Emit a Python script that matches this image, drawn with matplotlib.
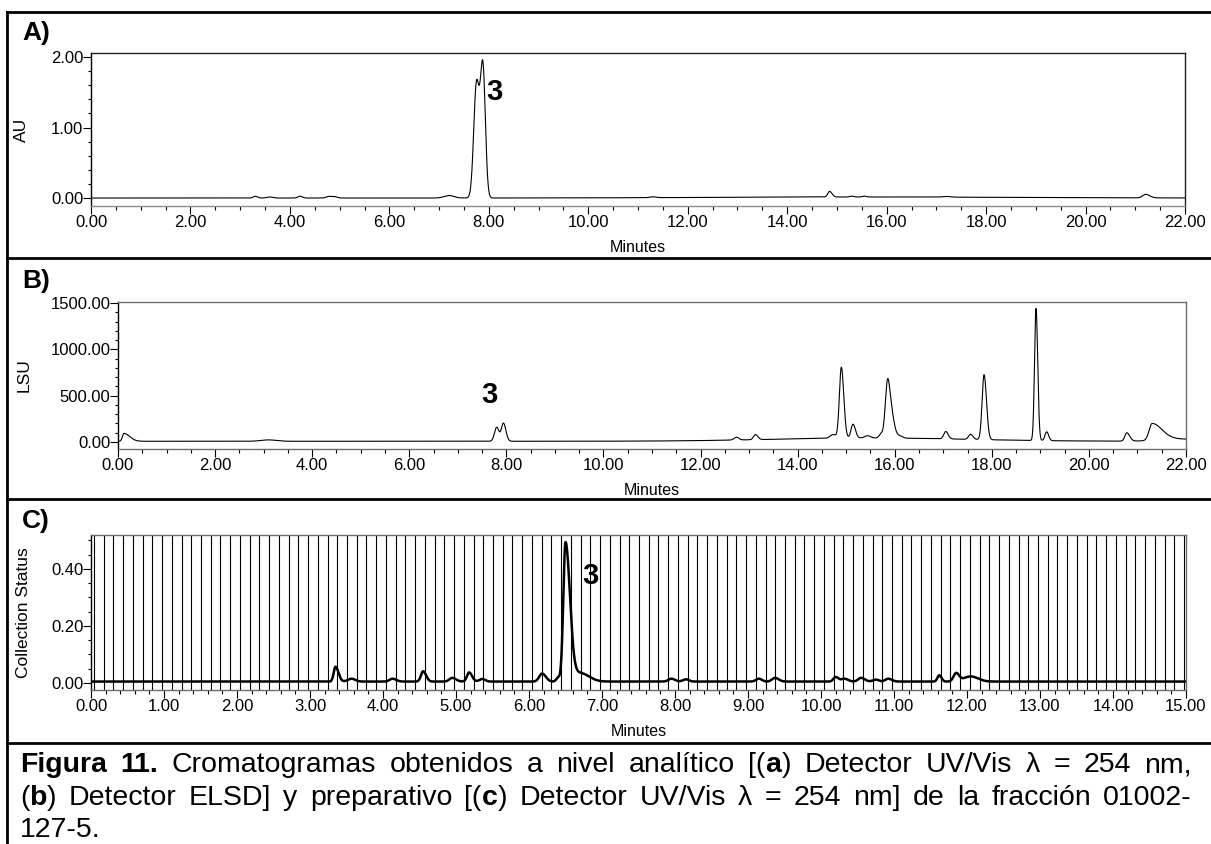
import numpy as np
import matplotlib.pyplot as plt
from matplotlib.lines import Line2D
from matplotlib.ticker import MultipleLocator, FormatStrFormatter

plt.rcParams['font.family'] = ['Liberation Sans', 'DejaVu Sans']

W, H = 1211, 844

# A) analytical run, UV/Vis 254 nm (AU)
a_rt = [3.30, 3.60, 4.20, 4.78, 4.90, 7.20, 7.75, 7.88, 11.30, 14.85,
        15.30, 15.55, 17.20, 21.21, 15.50]
a_height = [0.025, 0.015, 0.025, 0.022, 0.018, 0.035, 1.58, 1.86, 0.012, 0.08,
            0.012, 0.012, 0.010, 0.050, 0.015]
a_width = [0.04, 0.06, 0.04, 0.05, 0.05, 0.10, 0.054, 0.052, 0.06, 0.035,
           0.04, 0.04, 0.08, 0.06, 3.0]
a_tail = [0.05, 0.06, 0.05, 0.06, 0.05, 0.10, 0.054, 0.05, 0.06, 0.05,
          0.04, 0.04, 0.08, 0.08, 3.0]
a_base = 0.0

# B) analytical run, ELSD (LSU)
b_rt = [0.12, 3.10, 7.80, 7.94, 12.74, 13.13, 14.73, 14.90, 15.14, 15.44,
        15.72, 15.85, 15.93, 16.10, 17.05, 17.56, 17.84, 18.91, 19.13, 20.78,
        21.30, 21.75, 15.50]
b_height = [85, 15, 150, 195, 30, 55, 40, 765, 150, 25,
            45, 600, 260, 25, 80, 55, 700, 1425, 95, 90,
            180, 25, 35]
b_width = [0.03, 0.15, 0.045, 0.045, 0.05, 0.04, 0.06, 0.04, 0.04, 0.06,
           0.04, 0.045, 0.04, 0.06, 0.04, 0.04, 0.04, 0.03, 0.035, 0.04,
           0.06, 0.35, 2.0]
b_tail = [0.12, 0.15, 0.045, 0.05, 0.05, 0.05, 0.06, 0.05, 0.05, 0.06,
          0.04, 0.045, 0.06, 0.06, 0.05, 0.05, 0.05, 0.035, 0.04, 0.06,
          0.20, 0.60, 2.0]
b_base = 8.0

# C) preparative run, UV/Vis 254 nm with fraction collector marks
c_rt = [3.35, 3.57, 4.13, 4.55, 4.95, 5.18, 5.36, 6.18, 6.40, 6.50, 6.70,
        7.95, 8.15, 9.15, 9.37, 10.20, 10.32, 10.55, 10.75, 10.92, 11.62,
        11.85, 12.05]
c_height = [0.052, 0.010, 0.010, 0.036, 0.013, 0.032, 0.009, 0.028, 0.014,
            0.485, 0.030, 0.010, 0.008, 0.010, 0.013, 0.016, 0.010, 0.013,
            0.007, 0.010, 0.022, 0.028, 0.018]
c_width = [0.025, 0.05, 0.04, 0.03, 0.04, 0.03, 0.04, 0.04, 0.025, 0.03, 0.10,
           0.04, 0.04, 0.04, 0.04, 0.03, 0.04, 0.04, 0.04, 0.04, 0.025,
           0.035, 0.10]
c_tail = [0.04, 0.05, 0.05, 0.04, 0.05, 0.04, 0.04, 0.05, 0.025, 0.06, 0.12,
          0.05, 0.04, 0.04, 0.05, 0.04, 0.05, 0.05, 0.04, 0.05, 0.03,
          0.04, 0.10]
c_base = 0.005
frac_start = 0.04       # first fraction change (min)
frac_step = 0.13333     # 8 s per tube

caption = [
    [("Figura 11.", True), (" Cromatogramas obtenidos a nivel analítico [(", False),
     ("a", True), (") Detector UV/Vis λ = 254 nm,", False)],
    [("(", False), ("b", True), (") Detector ELSD] y preparativo [(", False),
     ("c", True), (") Detector UV/Vis λ = 254 nm] de la fracción 01002-", False)],
    [("127-5.", False)],
]


def trace(t, base, rt, height, width, tail):
    y = np.full_like(t, base)
    for r, h, sl, sr in zip(rt, height, width, tail):
        s = np.where(t < r, sl, sr)
        y += h * np.exp(-0.5 * ((t - r) / s) ** 2)
    return y


def px_axes(fig, left, top, right, bottom):
    return fig.add_axes([left / W, 1 - bottom / H, (right - left) / W, (bottom - top) / H])


def style_axes(ax, xmax, xmaj, xmin, ymaj, ymin, ylabel, label_px, height_px, edge):
    ax.set_xlim(0, xmax)
    ax.xaxis.set_major_locator(MultipleLocator(xmaj))
    ax.xaxis.set_minor_locator(MultipleLocator(xmin))
    ax.yaxis.set_major_locator(MultipleLocator(ymaj))
    ax.yaxis.set_minor_locator(MultipleLocator(ymin))
    ax.xaxis.set_major_formatter(FormatStrFormatter('%.2f'))
    ax.yaxis.set_major_formatter(FormatStrFormatter('%.2f'))
    ax.tick_params(axis='x', which='major', direction='out', length=5.5, width=0.8,
                   labelsize=12, pad=1)
    ax.tick_params(axis='x', which='minor', direction='out', length=2.8, width=0.8)
    ax.tick_params(axis='y', which='major', direction='out', length=5.5, width=0.8,
                   labelsize=12, pad=0)
    ax.tick_params(axis='y', which='minor', direction='out', length=2.5, width=0.8)
    ax.set_xlabel('Minutes', fontsize=11.5)
    ax.xaxis.set_label_coords(0.5, -34 / height_px)
    ax.set_ylabel(ylabel, fontsize=12.5)
    ax.yaxis.set_label_coords(label_px, 0.5)
    ax.spines['left'].set_color('black')
    for side in ('top', 'right', 'bottom'):
        ax.spines[side].set_color(edge)
    for sp in ax.spines.values():
        sp.set_linewidth(1.0)


def split_words(runs):
    words = [[]]
    for s, bold in runs:
        for i, part in enumerate(s.split(' ')):
            if i > 0:
                words.append([])
            if part:
                words[-1].append((part, bold))
    return [w for w in words if w]


def draw_line(fig, renderer, runs, x0, x1, y, size, justify):
    words = split_words(runs)
    placed = []
    total = 0.0
    for word in words:
        parts = []
        for s, bold in word:
            t = fig.text(0, 1 - y / H, s, fontsize=size,
                         fontweight='bold' if bold else 'normal', va='baseline')
            w = t.get_window_extent(renderer).width
            parts.append((t, w))
            total += w
        placed.append(parts)
    if justify and len(words) > 1:
        gap = (x1 - x0 - total) / (len(words) - 1)
    else:
        gap = 0.278 * size * fig.dpi / 72
    x = x0
    for parts in placed:
        for t, w in parts:
            t.set_x(x / W)
            x += w
        x += gap


t22 = np.linspace(0, 22, 8801)
t15 = np.linspace(0, 15, 6001)

fig = plt.figure(figsize=(W / 100, H / 100), dpi=100)

# panel frames
frame = dict(color='black', lw=2.0, transform=fig.transFigure)
fig.add_artist(Line2D([7 / W, 7 / W], [1 - 12 / H, 0], **frame))
for yy in (12, 258, 499, 743):
    fig.add_artist(Line2D([7 / W, 1], [1 - yy / H, 1 - yy / H], **frame))

for lab, yy in (('A)', 33), ('B)', 281), ('C)', 521)):
    fig.text(22 / W, 1 - yy / H, lab, fontsize=19, fontweight='bold', va='center')

# A
ax = px_axes(fig, 91, 53, 1185, 206)
ax.plot(t22, trace(t22, a_base, a_rt, a_height, a_width, a_tail), color='black', lw=0.8)
ax.set_ylim(-0.113, 2.057)
style_axes(ax, 22, 2, 0.5, 1, 0.2, 'AU', (29 - 91) / 1094, 153, '#222222')
ax.spines['bottom'].set_color('#8c8c8c')
ax.text(8.12, 1.50, '3', fontsize=21, fontweight='bold', ha='center', va='center')

# B
ax = px_axes(fig, 118, 302, 1186, 449)
ax.plot(t22, trace(t22, b_base, b_rt, b_height, b_width, b_tail), color='black', lw=0.8)
ax.set_ylim(-75.5, 1511)
style_axes(ax, 22, 2, 0.5, 500, 100, 'LSU', (32 - 118) / 1068, 147, '#6e6e6e')
ax.text(7.66, 508, '3', fontsize=21, fontweight='bold', ha='center', va='center')

# C
ax = px_axes(fig, 91, 535, 1186, 690)
frac_times = np.arange(frac_start, 15, frac_step)
for ft in frac_times:
    ax.axvline(ft, color='black', lw=0.8)
ax.plot(t15, trace(t15, c_base, c_rt, c_height, c_width, c_tail), color='black', lw=1.8)
ax.set_ylim(-0.0246, 0.519)
style_axes(ax, 15, 1, 0.2, 0.2, 0.05, 'Collection Status', (31 - 91) / 1095, 155, '#6e6e6e')
ax.text(6.84, 0.375, '3', fontsize=21, fontweight='bold', ha='center', va='center')

# caption
renderer = fig.canvas.get_renderer()
for i, (runs, base_y) in enumerate(zip(caption, (772, 805, 837))):
    draw_line(fig, renderer, runs, 20, 1192, base_y, 20.5, justify=i < len(caption) - 1)

fig.savefig('out.png', dpi=100)
